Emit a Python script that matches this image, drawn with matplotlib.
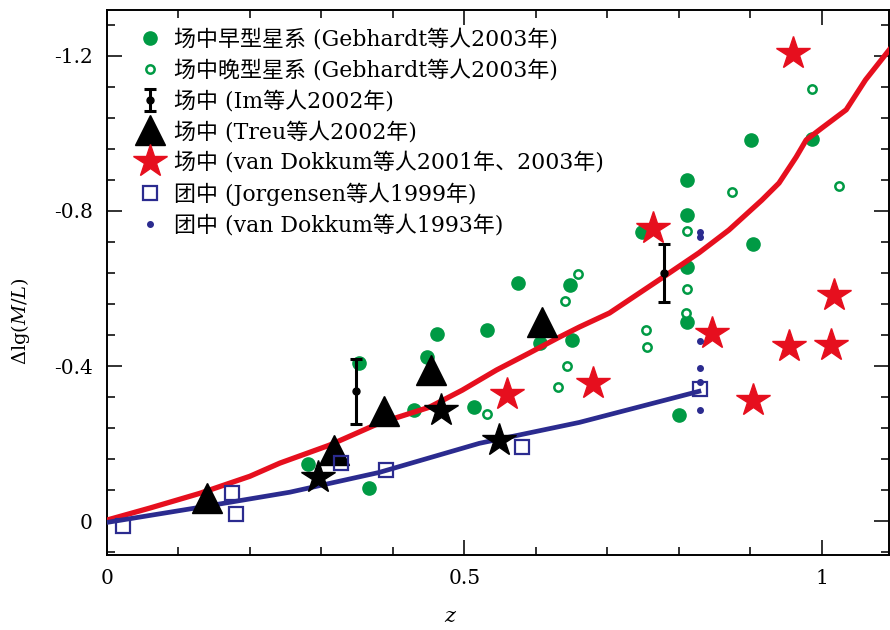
import matplotlib
matplotlib.use("Agg")
import matplotlib.pyplot as plt
from matplotlib.ticker import MultipleLocator, FixedLocator

plt.rcParams['font.family'] = ['DejaVu Serif', 'Noto Sans CJK SC']
plt.rcParams['mathtext.fontset'] = 'dejavuserif'

# field early-type galaxies (Gebhardt 2003)
early_z = [0.901, 0.811, 0.811, 0.904, 0.811, 0.575, 0.648, 0.606, 0.651, 0.811, 0.800,
           0.986, 0.749, 0.352, 0.462, 0.532, 0.448, 0.430, 0.514, 0.282, 0.366]
early_dml = [-0.983, -0.880, -0.790, -0.715, -0.655, -0.614, -0.609, -0.459, -0.467, -0.514, -0.274,
             -0.986, -0.746, -0.408, -0.483, -0.493, -0.423, -0.286, -0.294, -0.147, -0.085]

# field late-type galaxies (Gebhardt 2003)
late_z = [0.874, 1.024, 0.811, 0.659, 0.641, 0.811, 0.810, 0.754, 0.756, 0.644, 0.631, 0.532, 0.986]
late_dml = [-0.849, -0.865, -0.748, -0.637, -0.568, -0.599, -0.537, -0.493, -0.449, -0.400, -0.346, -0.276, -1.115]

# Im 2002
im_z = [0.349, 0.779]
im_dml = [-0.335, -0.640]
im_err = [0.084, 0.074]

# Treu 2002
treu_z = [0.140, 0.318, 0.388, 0.454, 0.609]
treu_dml = [-0.059, -0.183, -0.284, -0.390, -0.514]

# van Dokkum 2001, 2003 (field)
vdf_z = [0.960, 0.764, 0.846, 1.017, 0.954, 1.013, 0.904, 0.680, 0.560]
vdf_dml = [-1.208, -0.756, -0.485, -0.583, -0.452, -0.454, -0.312, -0.356, -0.328]

# black stars (no legend entry)
bstar_z = [0.295, 0.468, 0.549]
bstar_dml = [-0.114, -0.286, -0.209]

# Jorgensen 1999 (cluster)
jorg_z = [0.022, 0.175, 0.180, 0.327, 0.390, 0.580, 0.830]
jorg_dml = [0.013, -0.072, -0.018, -0.150, -0.132, -0.191, -0.341]

# van Dokkum 1993 (cluster)
vd93_z = [0.830, 0.830, 0.830, 0.830, 0.830, 0.830]
vd93_dml = [-0.746, -0.733, -0.465, -0.395, -0.359, -0.286]

# red (field) trend curve
red_z = [0.000, 0.060, 0.130, 0.200, 0.242, 0.311, 0.381, 0.451, 0.497, 0.545, 0.591, 0.633,
         0.661, 0.703, 0.772, 0.828, 0.870, 0.916, 0.940, 0.964, 0.978, 1.000, 1.034, 1.061, 1.094]
red_dml = [-0.003, -0.034, -0.072, -0.116, -0.150, -0.196, -0.253, -0.294, -0.338, -0.390, -0.434, -0.475,
           -0.501, -0.537, -0.622, -0.692, -0.751, -0.828, -0.872, -0.939, -0.983, -1.014, -1.061, -1.138, -1.215]

# blue (cluster) trend curve
blue_z = [0.000, 0.130, 0.256, 0.381, 0.521, 0.661, 0.828]
blue_dml = [0.003, -0.036, -0.075, -0.126, -0.201, -0.255, -0.335]

GREEN = '#009a44'
RED = '#e60f1e'
NAVY = '#2b2b8f'

fig = plt.figure(figsize=(8.9, 6.3), dpi=100)
ax = fig.add_axes([0.120, 0.119, 0.879, 0.865])

h_early, = ax.plot(early_z, early_dml, 'o', color=GREEN, ms=9.5, ls='none', zorder=2)
h_late, = ax.plot(late_z, late_dml, 'o', mfc='white', mec=GREEN, mew=1.8, ms=6, ls='none', zorder=2)

ax.plot(red_z, red_dml, '-', color=RED, lw=3.8, solid_joinstyle='round', zorder=3)
ax.plot(blue_z, blue_dml, '-', color=NAVY, lw=3.4, solid_joinstyle='round', zorder=3)

h_im = ax.errorbar(im_z, im_dml, yerr=im_err, fmt='o', color='black', ms=5,
                   elinewidth=2.2, capsize=4, capthick=2.2, zorder=4)
h_treu, = ax.plot(treu_z, treu_dml, '^', color='black', ms=21, ls='none', zorder=4)
ax.plot(bstar_z, bstar_dml, '*', color='black', ms=25, ls='none', zorder=4)
h_vdf, = ax.plot(vdf_z, vdf_dml, '*', color=RED, ms=25, ls='none', zorder=4)
h_jorg, = ax.plot(jorg_z, jorg_dml, 's', mfc='none', mec=NAVY, mew=1.6, ms=10, ls='none', zorder=5)
h_vd93, = ax.plot(vd93_z, vd93_dml, 'o', color=NAVY, ms=4, ls='none', zorder=5)

labels = ['场中早型星系 (Gebhardt等人2003年)',
          '场中晚型星系 (Gebhardt等人2003年)',
          '场中 (Im等人2002年)',
          '场中 (Treu等人2002年)',
          '场中 (van Dokkum等人2001年、2003年)',
          '团中 (Jorgensen等人1999年)',
          '团中 (van Dokkum等人1993年)']
ax.legend([h_early, h_late, h_im, h_treu, h_vdf, h_jorg, h_vd93], labels,
          loc='upper left', bbox_to_anchor=(0.02, 0.99), frameon=False,
          fontsize=15.8, handlelength=1.3, handletextpad=0.45, labelspacing=0.4,
          borderaxespad=0.2)

ax.set_xlim(0, 1.094)
ax.set_ylim(0.087, -1.318)

ax.xaxis.set_major_locator(FixedLocator([0, 0.5, 1.0]))
ax.set_xticklabels(['0', '0.5', '1'])
ax.xaxis.set_minor_locator(MultipleLocator(0.1))
ax.yaxis.set_major_locator(FixedLocator([0, -0.4, -0.8, -1.2]))
ax.set_yticklabels(['0', '-0.4', '-0.8', '-1.2'])
ax.yaxis.set_minor_locator(MultipleLocator(0.08))

ax.tick_params(which='both', direction='in', top=True, right=True, labelsize=14.5, width=1.3, color='#222222')
ax.tick_params(which='major', length=11, pad=10)
ax.tick_params(which='minor', length=6)
for s in ax.spines.values():
    s.set_linewidth(1.4)

ax.set_xlabel('$z$', fontsize=15)
ax.xaxis.set_label_coords(0.44, -0.095)
ax.set_ylabel(r'$\Delta$lg$(M/L)$', fontsize=14)
ax.yaxis.set_label_coords(-0.095, 0.43)

fig.savefig('out.png', dpi=100)
